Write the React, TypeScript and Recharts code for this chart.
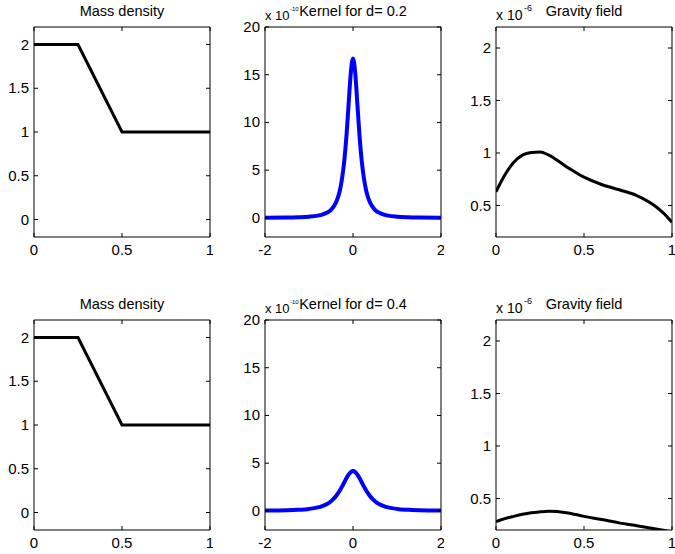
import { LineChart, Line, XAxis, YAxis, ReferenceArea } from 'recharts'

// mass density (piecewise linear)
const massX = [0, 0.25, 0.5, 1]
const massY = [2, 2, 1, 1]

// kernel values, in units of 1e-10
const kernelX = [-2, -1.5, -1.25, -1, -0.8, -0.7, -0.6, -0.5, -0.4, -0.35, -0.3, -0.25, -0.2, -0.15, -0.1, -0.05, 0, 0.05, 0.1, 0.15, 0.2, 0.25, 0.3, 0.35, 0.4, 0.5, 0.6, 0.7, 0.8, 1, 1.25, 1.5, 2]
const kernel02 = [0.02, 0.04, 0.07, 0.13, 0.24, 0.35, 0.53, 0.85, 1.49, 2.04, 2.85, 4.1, 5.9, 8.5, 11.9, 15.2, 16.7, 15.2, 11.9, 8.5, 5.9, 4.1, 2.85, 2.04, 1.49, 0.85, 0.53, 0.35, 0.24, 0.13, 0.07, 0.04, 0.02]
const kernel04 = [0.03, 0.07, 0.12, 0.21, 0.37, 0.51, 0.71, 1.02, 1.47, 1.78, 2.13, 2.54, 2.98, 3.42, 3.81, 4.07, 4.17, 4.07, 3.81, 3.42, 2.98, 2.54, 2.13, 1.78, 1.47, 1.02, 0.71, 0.51, 0.37, 0.21, 0.12, 0.07, 0.03]

// gravity field, in units of 1e-6
const gravX = [0, 0.05, 0.1, 0.15, 0.2, 0.25, 0.3, 0.4, 0.5, 0.6, 0.7, 0.8, 0.9, 0.95, 1]
const grav02 = [0.63, 0.79, 0.91, 0.98, 1.005, 1.01, 0.98, 0.87, 0.77, 0.7, 0.65, 0.595, 0.5, 0.43, 0.34]
const grav04 = [0.28, 0.308, 0.33, 0.35, 0.365, 0.373, 0.378, 0.365, 0.33, 0.3, 0.268, 0.24, 0.212, 0.197, 0.18]

const massTicksX = [0, 0.5, 1]
const massTicksY = [0, 0.5, 1, 1.5, 2]
const kernelTicksX = [-2, 0, 2]
const kernelTicksY = [0, 5, 10, 15, 20]
const gravTicksX = [0, 0.5, 1]
const gravTicksY = [0.5, 1, 1.5, 2]

const FONT = '"Liberation Sans", Arial, sans-serif'
const W = 176
const H = 210
const COLS = [34, 265, 496]
const ROWS = [27, 320]

const zip = (xs: number[], ys: number[]) => xs.map((x, i) => ({ x, y: ys[i] }))

interface PanelProps {
  left: number
  top: number
  data: { x: number; y: number }[]
  color: string
  width: number
  curve: 'monotone' | 'linear'
  xDomain: [number, number]
  yDomain: [number, number]
  xTicks: number[]
  yTicks: number[]
}

function Panel({ left, top, data, color, width, curve, xDomain, yDomain, xTicks, yTicks }: PanelProps) {
  const xTick = (p: any) => (
    <g>
      <line x1={p.x} x2={p.x} y1={p.y} y2={p.y - 4} stroke="#000" />
      <line x1={p.x} x2={p.x} y1={p.y - H} y2={p.y - H + 4} stroke="#000" />
      <text x={p.x} y={p.y + 18} textAnchor="middle" fontSize={15} fontFamily={FONT} fill="#000">
        {String(p.payload.value)}
      </text>
    </g>
  )
  const yTick = (p: any) => (
    <g>
      <line x1={p.x} x2={p.x + 4} y1={p.y} y2={p.y} stroke="#000" />
      <line x1={p.x + W} x2={p.x + W - 4} y1={p.y} y2={p.y} stroke="#000" />
      <text x={p.x - 5} y={p.y + 5} textAnchor="end" fontSize={15} fontFamily={FONT} fill="#000">
        {String(p.payload.value)}
      </text>
    </g>
  )
  return (
    <div style={{ position: 'absolute', left: left - 40, top: top - 27 }}>
      <LineChart width={W + 43} height={H + 57} data={data} margin={{ top: 27, right: 3, left: 10, bottom: 5 }}>
        <XAxis
          dataKey="x"
          type="number"
          domain={xDomain}
          ticks={xTicks}
          interval={0}
          allowDataOverflow
          axisLine={false}
          tickLine={false}
          tickSize={0}
          tickMargin={0}
          height={25}
          tick={xTick}
        />
        <YAxis
          type="number"
          domain={yDomain}
          ticks={yTicks}
          interval={0}
          allowDataOverflow
          axisLine={false}
          tickLine={false}
          tickSize={0}
          tickMargin={0}
          width={30}
          tick={yTick}
        />
        <ReferenceArea x1={xDomain[0]} x2={xDomain[1]} y1={yDomain[0]} y2={yDomain[1]} fill="none" stroke="#000" strokeWidth={1} />
        <Line type={curve} dataKey="y" stroke={color} strokeWidth={width} dot={false} isAnimationActive={false} />
      </LineChart>
    </div>
  )
}

export default function App() {
  const titles = ['Mass density', 'Kernel for d= 0.2', 'Gravity field', 'Mass density', 'Kernel for d= 0.4', 'Gravity field']
  return (
    <div style={{ position: 'absolute', left: 0, top: 0, width: 675, height: 554, background: '#fff', fontFamily: FONT }}>
      <Panel left={COLS[0]} top={ROWS[0]} data={zip(massX, massY)} color="#000" width={3} curve="linear" xDomain={[0, 1]} yDomain={[-0.2, 2.2]} xTicks={massTicksX} yTicks={massTicksY} />
      <Panel left={COLS[1]} top={ROWS[0]} data={zip(kernelX, kernel02)} color="#0000ff" width={4} curve="monotone" xDomain={[-2, 2]} yDomain={[-2, 20]} xTicks={kernelTicksX} yTicks={kernelTicksY} />
      <Panel left={COLS[2]} top={ROWS[0]} data={zip(gravX, grav02)} color="#000" width={3} curve="monotone" xDomain={[0, 1]} yDomain={[0.2, 2.2]} xTicks={gravTicksX} yTicks={gravTicksY} />
      <Panel left={COLS[0]} top={ROWS[1]} data={zip(massX, massY)} color="#000" width={3} curve="linear" xDomain={[0, 1]} yDomain={[-0.2, 2.2]} xTicks={massTicksX} yTicks={massTicksY} />
      <Panel left={COLS[1]} top={ROWS[1]} data={zip(kernelX, kernel04)} color="#0000ff" width={4} curve="monotone" xDomain={[-2, 2]} yDomain={[-2, 20]} xTicks={kernelTicksX} yTicks={kernelTicksY} />
      <Panel left={COLS[2]} top={ROWS[1]} data={zip(gravX, grav04)} color="#000" width={3} curve="monotone" xDomain={[0, 1]} yDomain={[0.2, 2.2]} xTicks={gravTicksX} yTicks={gravTicksY} />
      <svg width={675} height={554} style={{ position: 'absolute', left: 0, top: 0, pointerEvents: 'none' }}>
        {ROWS.map((r, ri) => (
          <g key={ri}>
            {COLS.map((c, ci) => (
              <text key={ci} x={c + W / 2} y={r - 11} textAnchor="middle" fontSize={14.5} fontFamily={FONT} fill="#000">
                {titles[ri * 3 + ci]}
              </text>
            ))}
            <text x={COLS[1]} y={r - 7} fontSize={13} fontFamily={FONT} fill="#000">x 10</text>
            <text x={COLS[1] + 25} y={r - 16} fontSize={6} fontFamily={FONT} fill="#000">-10</text>
            <text x={COLS[2]} y={r - 7} fontSize={14} fontFamily={FONT} fill="#000">x 10</text>
            <text x={COLS[2] + 28} y={r - 16} fontSize={9} fontFamily={FONT} fill="#000">-6</text>
          </g>
        ))}
      </svg>
    </div>
  )
}
